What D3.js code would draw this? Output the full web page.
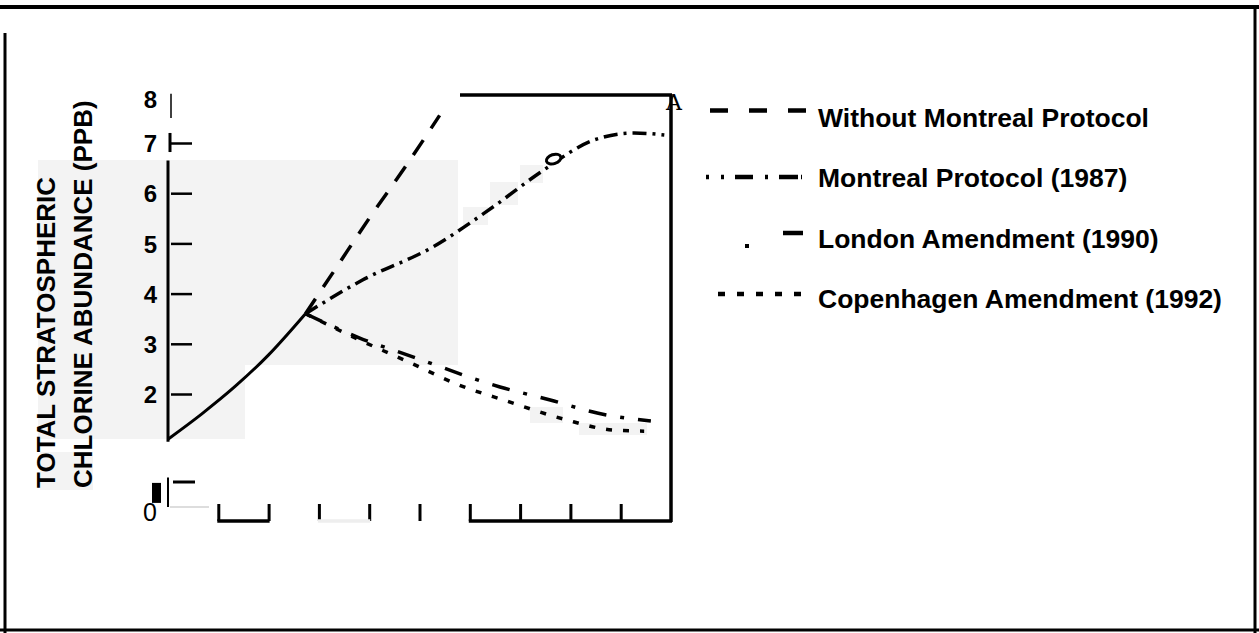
<!DOCTYPE html>
<html>
<head>
<meta charset="utf-8">
<script src="https://cdn.jsdelivr.net/npm/d3@7"></script>
<style>
  body { margin: 0; background: #fff; }
  svg { display: block; font-family: "Liberation Sans", Arial, sans-serif; }
</style>
</head>
<body>
<svg id="chart" width="1259" height="633"></svg>
<script>
// chlorine abundance (ppb) by year
var histYears = [1950, 1960, 1970, 1980, 1991];
var histValues = [1.1, 1.6, 2.15, 2.78, 3.6];

var withoutYears = [1991, 2000, 2010, 2020, 2031];
var withoutValues = [3.6, 4.5, 5.5, 6.45, 7.55];

var montrealYears = [1991, 2008, 2029, 2047, 2062, 2077, 2089, 2098];
var montrealValues = [3.6, 4.27, 4.93, 5.73, 6.46, 7.06, 7.2, 7.16];

var londonYears = [1991, 2007, 2023, 2049, 2064, 2078, 2094];
var londonValues = [3.6, 3.12, 2.74, 2.14, 1.88, 1.62, 1.46];

var copenYears = [1991, 2007, 2023, 2036, 2051, 2068, 2083, 2092];
var copenValues = [3.6, 3.08, 2.6, 2.2, 1.86, 1.5, 1.28, 1.26];

var yTicks = [2, 3, 4, 5, 6, 7, 8];
var xTicks = [1965, 1980, 1995, 2010, 2025, 2040, 2055, 2070, 2085];

var legendLabels = ["Without Montreal Protocol", "Montreal Protocol (1987)",
  "London Amendment (1990)", "Copenhagen Amendment (1992)"];

var svg = d3.select("#chart");

var x = d3.scaleLinear().domain([1950, 2100]).range([168, 671]);
var y = d3.scaleLinear().domain([2, 7]).range([394, 143]);
var yBreak = d3.scaleLinear().domain([0, 1]).range([512, 482]);

// scan-like gray patches
var patches = [[38,160,420,205],[38,365,207,74],[40,452,53,38],[463,207,25,18],
  [490,182,28,23],[520,165,23,18],[530,407,33,16],[579,423,68,12]];
svg.selectAll("rect.patch").data(patches).enter().append("rect")
  .attr("class", "patch")
  .attr("x", d => d[0]).attr("y", d => d[1])
  .attr("width", d => d[2]).attr("height", d => d[3])
  .attr("fill", "#f3f3f3");

// outer frame
var frame = svg.append("g").attr("stroke", "#000").attr("fill", "none");
frame.append("line").attr("x1", 0).attr("x2", 1259).attr("y1", 7).attr("y2", 7).attr("stroke-width", 4);
frame.append("line").attr("x1", 1255).attr("x2", 1255).attr("y1", 6).attr("y2", 633).attr("stroke-width", 3);
frame.append("line").attr("x1", 5).attr("x2", 5).attr("y1", 33).attr("y2", 633).attr("stroke-width", 3);
frame.append("line").attr("x1", 0).attr("x2", 1259).attr("y1", 630).attr("y2", 630).attr("stroke-width", 3);

// plot box (top and right)
frame.append("line").attr("x1", 460).attr("x2", x(2100) + 1).attr("y1", 95).attr("y2", 95).attr("stroke-width", 3.5);
frame.append("line").attr("x1", x(2100)).attr("x2", x(2100)).attr("y1", 94).attr("y2", 522).attr("stroke-width", 3.5);

// y axis
var yAxis = svg.append("g")
  .attr("transform", "translate(168,0)")
  .call(d3.axisLeft(y).tickValues(yTicks).tickFormat(d3.format("d"))
    .tickSizeInner(-21).tickSizeOuter(0).tickPadding(11));
yAxis.select(".domain").remove();
yAxis.selectAll(".tick line").attr("stroke", "#000").attr("stroke-width", 2.5)
  .attr("x1", 3).attr("x2", 24)
  .filter(d => d === 8).remove();
yAxis.selectAll(".tick text").attr("font-size", 24).attr("font-weight", "bold").attr("fill", "#000")
  .attr("dy", d => d === 8 ? "0.6em" : "0.36em");

svg.append("line").attr("x1", 168).attr("x2", 168)
  .attr("y1", y(6.65)).attr("y2", y(1.05)).attr("stroke", "#000").attr("stroke-width", 3);
svg.append("line").attr("x1", 171).attr("x2", 171)
  .attr("y1", y(7.98)).attr("y2", y(7.5)).attr("stroke", "#000").attr("stroke-width", 1.5);
svg.append("line").attr("x1", 170).attr("x2", 170)
  .attr("y1", y(7.2)).attr("y2", y(6.82)).attr("stroke", "#000").attr("stroke-width", 3);

// broken bottom of the y axis with 0
var zAxis = svg.append("g")
  .attr("transform", "translate(168,0)")
  .call(d3.axisLeft(yBreak).tickValues([0]).tickFormat(d3.format("d")).tickSize(0).tickPadding(11));
zAxis.select(".domain").remove();
zAxis.selectAll("text").attr("font-size", 25).attr("fill", "#000");
svg.append("rect").attr("x", 152).attr("y", yBreak(0.97)).attr("width", 9).attr("height", 20).attr("fill", "#000");
svg.append("line").attr("x1", 168).attr("x2", 168).attr("y1", yBreak(1.15)).attr("y2", yBreak(0.17))
  .attr("stroke", "#000").attr("stroke-width", 2);
svg.append("line").attr("x1", 173).attr("x2", 195).attr("y1", yBreak(1)).attr("y2", yBreak(1))
  .attr("stroke", "#000").attr("stroke-width", 3);
svg.append("line").attr("x1", 170).attr("x2", 209).attr("y1", yBreak(0.17)).attr("y2", yBreak(0.17))
  .attr("stroke", "#ddd").attr("stroke-width", 2);

// x axis (ticks only, no labels)
var xAxis = svg.append("g")
  .attr("transform", "translate(0,521)")
  .call(d3.axisBottom(x).tickValues(xTicks).tickSize(-17).tickFormat(""));
xAxis.select(".domain").remove();
xAxis.selectAll(".tick line").attr("stroke", "#000").attr("stroke-width", 3);
[[1965, 1980, "#000"], [1995, 2010, "#eee"], [2040, 2100, "#000"]].forEach(function (s) {
  svg.append("line").attr("x1", x(s[0]) - 1).attr("x2", x(s[1]) + 1)
    .attr("y1", 521).attr("y2", 521).attr("stroke", s[2]).attr("stroke-width", 3.5);
});

// series lines
var line = d3.line().x(d => x(d[0])).y(d => y(d[1])).curve(d3.curveMonotoneX);
function series(years, vals, dash, w) {
  svg.append("path")
    .datum(d3.zip(years, vals))
    .attr("d", line)
    .attr("fill", "none")
    .attr("stroke", "#000")
    .attr("stroke-width", w)
    .attr("stroke-dasharray", dash);
}
series(histYears, histValues, null, 3);
series(withoutYears, withoutValues, "18,14", 3.5);
series(montrealYears, montrealValues, "14,6,3,6", 3.5);
series(londonYears, londonValues, "18,14,4,14", 3.5);
series(copenYears, copenValues, "6,11", 3.5);

// the stray "o" on the Montreal curve
svg.append("ellipse")
  .attr("cx", x(2065)).attr("cy", y(6.68))
  .attr("rx", 7.5).attr("ry", 4.5)
  .attr("transform", "rotate(-18," + x(2065) + "," + y(6.68) + ")")
  .attr("fill", "#fff").attr("stroke", "#000").attr("stroke-width", 3);

svg.append("text").attr("x", 674).attr("y", 110).attr("text-anchor", "middle")
  .attr("font-family", "DejaVu Serif, serif").attr("font-size", 22).text("A");

// y axis title
var titleLines = ["TOTAL STRATOSPHERIC", "CHLORINE ABUNDANCE (PPB)"];
svg.selectAll("text.ytitle").data(titleLines).enter().append("text")
  .attr("class", "ytitle")
  .attr("transform", (d, i) => "translate(" + (55 + i * 37) + ",488) rotate(-90)")
  .attr("font-size", 26).attr("font-weight", "bold")
  .text(d => d);

// legend
var legendY = [127, 187, 248, 308];
var lg = svg.append("g");
lg.selectAll("text").data(legendLabels).enter().append("text")
  .attr("x", 818).attr("y", (d, i) => legendY[i])
  .attr("font-size", 26.5).attr("font-weight", "bold")
  .text(d => d);

function sample(x1, x2, yy, dash) {
  lg.append("line").attr("x1", x1).attr("x2", x2).attr("y1", yy).attr("y2", yy)
    .attr("stroke", "#000").attr("stroke-width", 4.5).attr("stroke-dasharray", dash);
}
sample(710, 806, legendY[0] - 16.5, "18,21");
sample(706, 802, legendY[1] - 10, "3,12,3,11,18,12,3,11,19");
sample(783, 803, legendY[2] - 15, null);
lg.append("rect").attr("x", 745).attr("y", legendY[2] - 4).attr("width", 4).attr("height", 4).attr("fill", "#000");
sample(718, 802, legendY[3] - 14, "7,12");
</script>
</body>
</html>
